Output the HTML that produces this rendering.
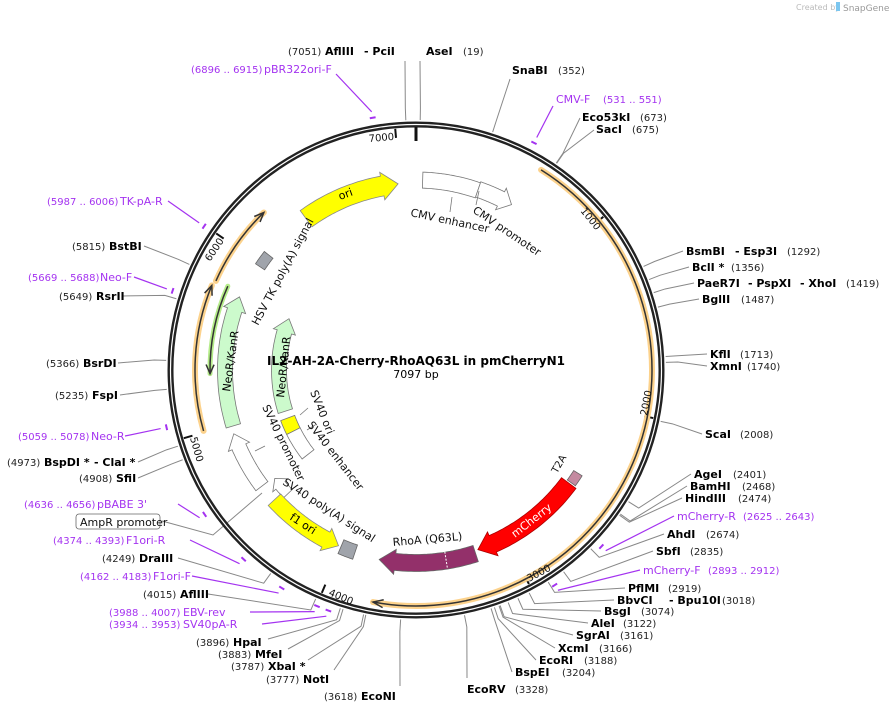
<!DOCTYPE html>
<html><head><meta charset="utf-8">
<style>
html,body{margin:0;padding:0;background:#fff}
svg{display:block}
text{font-family:"DejaVu Sans","Liberation Sans",sans-serif}
.n{font-size:11px;font-weight:bold;fill:#000}
.c{font-size:10px;fill:#222}
.p{font-size:11px;fill:#a433f0}
.pc{font-size:10px;fill:#a433f0}
.f{font-size:11px;fill:#111}
</style></head>
<body>
<svg id="s" width="893" height="713" viewBox="0 0 893 713" xmlns="http://www.w3.org/2000/svg">
<g id="lines"></g>
<g id="feat"></g>
<text x="796" y="10" style="font-size:8px;fill:#bbb">Created by</text>
<rect x="836" y="2" width="4" height="9" fill="#7cc6ef"/>
<text x="843" y="11" style="font-size:9px;fill:#999">SnapGene</text>

<text x="416" y="365" text-anchor="middle" style="font-size:12px;font-weight:bold">IL2-AH-2A-Cherry-RhoAQ63L in pmCherryN1</text>
<text x="416" y="378" text-anchor="middle" style="font-size:11px">7097 bp</text>

<text x="288" y="55" class="c">(7051)</text><text x="325" y="55" class="n">AflIII</text><text x="364" y="55" class="n">- PciI</text>
<text x="426" y="55" class="n">AseI</text><text x="463" y="55" class="c">(19)</text>
<text x="191" y="73" class="pc">(6896 .. 6915)</text><text x="264" y="73" class="p">pBR322ori-F</text>
<text x="512" y="74" class="n">SnaBI</text><text x="558" y="74" class="c">(352)</text>
<text x="556" y="103" class="p">CMV-F</text><text x="603" y="103" class="pc">(531 .. 551)</text>
<text x="582" y="121" class="n">Eco53kI</text><text x="640" y="121" class="c">(673)</text>
<text x="596" y="133" class="n">SacI</text><text x="632" y="133" class="c">(675)</text>

<text x="686" y="255" class="n">BsmBI</text><text x="735" y="255" class="n">- Esp3I</text><text x="787" y="255" class="c">(1292)</text>
<text x="692" y="271" class="n">BclI *</text><text x="731" y="271" class="c">(1356)</text>
<text x="697" y="287" class="n">PaeR7I</text><text x="748" y="287" class="n">- PspXI</text><text x="800" y="287" class="n">- XhoI</text><text x="846" y="287" class="c">(1419)</text>
<text x="702" y="303" class="n">BglII</text><text x="741" y="303" class="c">(1487)</text>
<text x="710" y="358" class="n">KflI</text><text x="740" y="358" class="c">(1713)</text>
<text x="710" y="370" class="n">XmnI</text><text x="747" y="370" class="c">(1740)</text>
<text x="705" y="438" class="n">ScaI</text><text x="740" y="438" class="c">(2008)</text>
<text x="694" y="478" class="n">AgeI</text><text x="733" y="478" class="c">(2401)</text>
<text x="690" y="490" class="n">BamHI</text><text x="742" y="490" class="c">(2468)</text>
<text x="685" y="502" class="n">HindIII</text><text x="738" y="502" class="c">(2474)</text>
<text x="677" y="520" class="p">mCherry-R</text><text x="743" y="520" class="pc">(2625 .. 2643)</text>
<text x="667" y="538" class="n">AhdI</text><text x="706" y="538" class="c">(2674)</text>
<text x="656" y="555" class="n">SbfI</text><text x="690" y="555" class="c">(2835)</text>
<text x="643" y="574" class="p">mCherry-F</text><text x="708" y="574" class="pc">(2893 .. 2912)</text>
<text x="628" y="592" class="n">PflMI</text><text x="668" y="592" class="c">(2919)</text>
<text x="617" y="604" class="n">BbvCI</text><text x="669" y="604" class="n">- Bpu10I</text><text x="722" y="604" class="c">(3018)</text>
<text x="604" y="615" class="n">BsgI</text><text x="641" y="615" class="c">(3074)</text>
<text x="591" y="627" class="n">AleI</text><text x="623" y="627" class="c">(3122)</text>
<text x="576" y="639" class="n">SgrAI</text><text x="620" y="639" class="c">(3161)</text>
<text x="558" y="652" class="n">XcmI</text><text x="599" y="652" class="c">(3166)</text>
<text x="539" y="664" class="n">EcoRI</text><text x="584" y="664" class="c">(3188)</text>
<text x="515" y="676" class="n">BspEI</text><text x="562" y="676" class="c">(3204)</text>
<text x="467" y="693" class="n">EcoRV</text><text x="515" y="693" class="c">(3328)</text>
<text x="324" y="700" class="c">(3618)</text><text x="361" y="700" class="n">EcoNI</text>

<text x="266" y="683" class="c">(3777)</text><text x="303" y="683" class="n">NotI</text>
<text x="231" y="670" class="c">(3787)</text><text x="268" y="670" class="n">XbaI *</text>
<text x="218" y="658" class="c">(3883)</text><text x="255" y="658" class="n">MfeI</text>
<text x="196" y="646" class="c">(3896)</text><text x="233" y="646" class="n">HpaI</text>
<text x="109" y="628" class="pc">(3934 .. 3953)</text><text x="183" y="628" class="p">SV40pA-R</text>
<text x="109" y="616" class="pc">(3988 .. 4007)</text><text x="183" y="616" class="p">EBV-rev</text>
<text x="143" y="598" class="c">(4015)</text><text x="180" y="598" class="n">AflIII</text>
<text x="80" y="580" class="pc">(4162 .. 4183)</text><text x="153" y="580" class="p">F1ori-F</text>
<text x="102" y="562" class="c">(4249)</text><text x="139" y="562" class="n">DraIII</text>
<text x="53" y="544" class="pc">(4374 .. 4393)</text><text x="126" y="544" class="p">F1ori-R</text>
<rect x="76" y="514" width="84" height="15" rx="3" fill="#fff" stroke="#666" stroke-width="0.8"/>
<text x="80" y="526" class="f">AmpR promoter</text>
<text x="24" y="508" class="pc">(4636 .. 4656)</text><text x="97" y="508" class="p">pBABE 3'</text>
<text x="79" y="482" class="c">(4908)</text><text x="116" y="482" class="n">SfiI</text>
<text x="7" y="466" class="c">(4973)</text><text x="44" y="466" class="n">BspDI *</text><text x="94" y="466" class="n">- ClaI *</text>
<text x="18" y="440" class="pc">(5059 .. 5078)</text><text x="91" y="440" class="p">Neo-R</text>
<text x="55" y="399" class="c">(5235)</text><text x="92" y="399" class="n">FspI</text>
<text x="46" y="367" class="c">(5366)</text><text x="83" y="367" class="n">BsrDI</text>
<text x="59" y="300" class="c">(5649)</text><text x="96" y="300" class="n">RsrII</text>
<text x="28" y="281" class="pc">(5669 .. 5688)</text><text x="100" y="281" class="p">Neo-F</text>
<text x="72" y="250" class="c">(5815)</text><text x="109" y="250" class="n">BstBI</text>
<text x="47" y="205" class="pc">(5987 .. 6006)</text><text x="120" y="205" class="p">TK-pA-R</text>

<g id="flabels">
<text class="f" transform="translate(410,216) rotate(12)">CMV enhancer</text>
<text class="f" transform="translate(472,212) rotate(34)">CMV promoter</text>
<text class="f" transform="translate(258,326) rotate(-62)">HSV TK poly(A) signal</text>
<text transform="translate(340,200) rotate(-20)" style="font-size:11px">ori</text>
<text transform="translate(230,392) rotate(-82)" style="font-size:11px">NeoR/KanR</text>
<text transform="translate(284,398) rotate(-84)" style="font-size:11px">NeoR/KanR</text>
<text class="f" transform="translate(310,392) rotate(68)">SV40 ori</text>
<text class="f" transform="translate(307,425) rotate(52)">SV40 enhancer</text>
<text class="f" transform="translate(262,407) rotate(64)">SV40 promoter</text>
<text class="f" transform="translate(282,484) rotate(33)">SV40 poly(A) signal</text>
<text transform="translate(289,519) rotate(33)" style="font-size:11px">f1 ori</text>
<text class="f" transform="translate(393,546) rotate(-5)">RhoA (Q63L)</text>
<text transform="translate(515,538) rotate(-38)" style="font-size:11px;fill:#fff">mCherry</text>
<text class="f" transform="translate(557,474) rotate(-60)" style="font-size:10px">T2A</text>

<text class="f" transform="translate(580,211) rotate(51)" style="font-size:10px">1000</text>
<text class="f" transform="translate(647,416) rotate(-79)" style="font-size:10px">2000</text>
<text class="f" transform="translate(529,582) rotate(-28)" style="font-size:10px">3000</text>
<text class="f" transform="translate(328,595) rotate(23)" style="font-size:10px">4000</text>
<text class="f" transform="translate(190,438) rotate(74)" style="font-size:10px">5000</text>
<text class="f" transform="translate(210,262) rotate(-56)" style="font-size:10px">6000</text>
<text class="f" transform="translate(369,142) rotate(-5)" style="font-size:10px">7000</text>
</g>
</svg>
<script>
(function(){
var cx=416,cy=370,T=7097,NS="http://www.w3.org/2000/svg";
var svg=document.getElementById('s'),L=document.getElementById('lines'),F=document.getElementById('feat');
function P(r,a){a=a*Math.PI/180;return [cx+r*Math.sin(a),cy-r*Math.cos(a)];}
function el(p,n,at){var e=document.createElementNS(NS,n);for(var k in at)e.setAttribute(k,at[k]);p.appendChild(e);return e;}
function arcD(r,a1,a2){var s=P(r,a1),e=P(r,a2),lg=Math.abs(a2-a1)>180?1:0,sw=a2>a1?1:0;
 return "M"+s[0]+","+s[1]+" A"+r+","+r+" 0 "+lg+" "+sw+" "+e[0]+","+e[1];}
function ang(bp){return bp/T*360;}
var Ls=[[7051,405,61],[19,420,61],[352,510,79],[673,580,118],[675,594,130],
[1292,683,251],[1356,689,267],[1419,694,283],[1487,699,299],[1713,707,354],[1740,707,366],[2008,702,434],
[2401,691,474],[2468,687,486],[2474,682,498],[2674,664,534],[2835,653,551],[2919,625,588],[3018,614,600],
[3074,601,611],[3122,588,623],[3161,573,635],[3166,555,648],[3188,536,660],[3204,512,672],[3328,467,678],[3618,400,686],
[3777,334,670],[3787,308,660],[3883,288,649],[3896,268,639],[4015,208,594],[4249,178,558],[4908,138,478],[4973,138,462],
[5235,120,395],[5366,118,363],[5649,122,296],[5815,144,246]];
Ls.forEach(function(l){var a=ang(l[0]),p1=P(262,a),p2=P(250,a);
 el(L,'path',{d:"M"+l[1]+","+l[2]+" L"+p1[0]+","+p1[1]+" L"+p2[0]+","+p2[1],fill:'none',stroke:'#888','stroke-width':1});});
el(L,'path',{d:"M162,521 L213,535 L262,493",fill:'none',stroke:'#888','stroke-width':1});
var Pr=[[6905,336,74],[541,553,106],[2634,674,516],[2902,640,570],[3943,262,624],[3997,250,612],[4172,192,576],[4383,190,540],[4646,178,504],[5068,125,436],[5678,134,277],[5996,168,201]];
Pr.forEach(function(l){var a=ang(l[0]),p1=P(262,a);
 el(L,'path',{d:"M"+l[1]+","+l[2]+" L"+p1[0]+","+p1[1],fill:'none',stroke:'#a433f0','stroke-width':1.2});
 var d=2.6/T*360*10;el(L,'path',{d:arcD(256,a-d/2,a+d/2),fill:'none',stroke:'#a433f0','stroke-width':2});});
el(F,'circle',{cx:cx,cy:cy,r:245.5,fill:'none',stroke:'#222','stroke-width':6});
el(F,'circle',{cx:cx,cy:cy,r:245.5,fill:'none',stroke:'#fff','stroke-width':1.2});
for(var k=1;k<=7;k++){var a=ang(k*1000),p1=P(242,a),p2=P(233,a);el(F,'line',{x1:p1[0],y1:p1[1],x2:p2[0],y2:p2[1],stroke:'#111','stroke-width':2});}
var t1=P(243,0),t2=P(229,0);el(F,'line',{x1:t1[0],y1:t1[1],x2:t2[0],y2:t2[1],stroke:'#111','stroke-width':3});
function orf(r,a1,a2,head,col){el(F,'path',{d:arcD(r,a1,a2),fill:'none',stroke:'#fcd28c','stroke-width':6,'stroke-linecap':'round'});
 el(F,'path',{d:arcD(r,a1,a2),fill:'none',stroke:col||'#333','stroke-width':1.5});
 if(head){var s=a2>a1?1:-1,tip=P(r,a2),b1=P(r+4,a2-s*2.5),b2=P(r-4,a2-s*2.5);
 el(F,'path',{d:"M"+b1+" L"+tip+" L"+b2,fill:'none',stroke:col||'#333','stroke-width':1.5});}}
orf(236,32,190.5,true);
orf(219,294,316,true);
orf(221,254,292.5,true);
el(F,'path',{d:arcD(206,294,269),fill:'none',stroke:'#b5ec8a','stroke-width':5,'stroke-linecap':'round'});
(function(){var r=206;el(F,'path',{d:arcD(r,294,269),fill:'none',stroke:'#333','stroke-width':1.5});
 var tip=P(r,269),b1=P(r+4,271.5),b2=P(r-4,271.5);el(F,'path',{d:"M"+b1+" L"+tip+" L"+b2,fill:'none',stroke:'#333','stroke-width':1.5});})();
function feat(a1,a2,r,w,fill,stroke,head){var s=a2>a1?1:-1,hd=head?head/r*180/Math.PI:0,ab=a2-s*hd,pts=[],i,n=30;
 for(i=0;i<=n;i++){pts.push(P(r+w/2,a1+(ab-a1)*i/n));}
 if(head){pts.push(P(r+w/2+4,ab));pts.push(P(r,a2));pts.push(P(r-w/2-4,ab));}
 for(i=n;i>=0;i--){pts.push(P(r-w/2,a1+(ab-a1)*i/n));}
 el(F,'polygon',{points:pts.map(function(p){return p[0].toFixed(1)+","+p[1].toFixed(1);}).join(" "),fill:fill,stroke:stroke||'#777','stroke-width':0.8});}
feat(324,354.5,187,20,'#ffff00','#888',16);
feat(2,19,190,16,'#fff','#777',0);
feat(19,30,191,16,'#fff','#777',12);
feat(303.5,308,187,11,'#a0a4ab','#666',0);
feat(253,292.5,191,15,'#ccfacc','#777',14);
feat(252.5,292,137,15,'#ccfacc','#777',14);
feat(243.5,249.5,137,15,'#ffff00','#777',0);
feat(232,243.5,137,15,'#fff','#777',0);
feat(233,250.7,193,15,'#fff','#777',14);
feat(226,232.5,178,12,'#fff','#777',9);
feat(227.5,203.8,192,17,'#ffff00','#888',14);
feat(198.5,203,192,15,'#a0a4ab','#666',0);
feat(162,191,193,17,'#93306a','#666',16);
feat(126.5,161,190,18,'#ff0000','#a00',16);
feat(122.5,126,192,10,'#c48aa0','#666',0);
var d1=P(184,171),d2=P(201,171);el(F,'line',{x1:d1[0],y1:d1[1],x2:d2[0],y2:d2[1],stroke:'#fff','stroke-width':1,'stroke-dasharray':'2,1.5'});
function fl(x1,y1,x2,y2){el(F,'line',{x1:x1,y1:y1,x2:x2,y2:y2,stroke:'#777','stroke-width':0.8});}
fl(452,197,450,212);fl(479,191,476,205);fl(300,415,308,408);fl(307,430,315,425);fl(255,451,265,446);
svg.appendChild(document.getElementById('flabels'));
})();
</script>
</body></html>
